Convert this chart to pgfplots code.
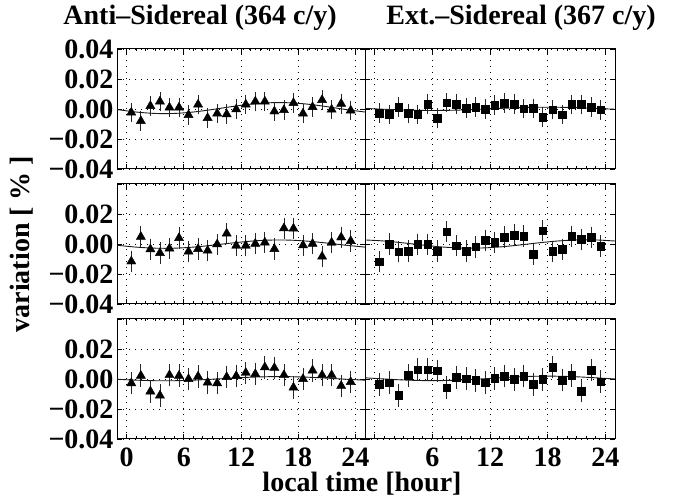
\documentclass[border=0pt]{standalone}
\usepackage{fontspec}
\setmainfont{Liberation Serif}
\usepackage{pgfplots}
\pgfplotsset{compat=1.18}
\usepgfplotslibrary{groupplots}

\newcommand{\bigbf}{\bfseries\fontsize{28}{30}\selectfont}

\tikzset{tag/.style={anchor=west, font=\bigbf, xshift=11pt}}

\pgfplotsset{
  panel/.style={
    scale only axis, height=120pt,
    xmin=-1, xmax=25, ymin=-0.04, ymax=0.04,
    scaled y ticks=false,
    xtick={0,6,12,18,24}, ytick={-0.04,-0.02,0,0.02,0.04},
    minor x tick num=5,
    grid=major,
    major grid style={black, line width=0.7pt, dash pattern=on 1pt off 5pt},
    tick align=inside, major tick length=5pt, minor tick length=2.5pt,
    tick style={black, line width=0.7pt},
    axis line style={line width=1pt},
    ticklabel style={font=\bigbf},
    xticklabel style={yshift=-5pt},
    label style={font=\bigbf},
    xticklabels={}, yticklabels={},
  },
  tri/.style={only marks, black, mark=triangle*, mark size=5.3pt,
    mark options={solid, fill=black, line width=0.4pt},
    error bars/.cd, y dir=both, y fixed=#1,
    error bar style={line width=0.8pt, black!85},
    error mark options={mark size=3.5pt, line width=0.8pt, black!85}},
  sq/.style={only marks, black, mark=square*, mark size=3.8pt,
    mark options={solid, fill=black, line width=0.4pt},
    error bars/.cd, y dir=both, y fixed=#1,
    error bar style={line width=0.8pt, black!85},
    error mark options={mark size=3.5pt, line width=0.8pt, black!85}},
  fit/.style={smooth, black!90, line width=0.9pt, no markers},
}

\begin{document}
\begin{tikzpicture}
\begin{groupplot}[group style={group size=2 by 3, horizontal sep=0pt, vertical sep=15pt}, panel]

% (a) anti-sidereal
\nextgroupplot[width=248pt,
  yticklabels={−0.04,−0.02,0.00,0.02,0.04},
  title={Anti–Sidereal (364 c/y)},
  title style={at={(rel axis cs:0.335,1)}, anchor=base, yshift=18pt, font=\bigbf}]
\addplot[fit] coordinates {(-1,-0.00036) (1,-0.00202) (3,-0.00297) (5,-0.00297) (7,-0.00202) (9,-0.00036) (11,0.00156) (13,0.00322) (15,0.00417) (17,0.00417) (19,0.00322) (21,0.00156) (23,-0.00036) (25,-0.00202)};
\addplot[tri=0.0042] coordinates {
 (0.5,-0.0024) (1.5,-0.008) (2.5,0.002) (3.5,0.005) (4.5,0.001) (5.5,0.001)
 (6.5,-0.004) (7.5,0.003) (8.5,-0.006) (9.5,-0.003) (10.5,-0.0035) (11.5,-0.0002)
 (12.5,0.003) (13.5,0.005) (14.5,0.005) (15.5,-0.0016) (16.5,-0.0007) (17.5,0.004)
 (18.5,-0.003) (19.5,0.0013) (20.5,0.006) (21.5,-0.0004) (22.5,0.0035) (23.5,-0.001)};

% (a) extended-sidereal
\nextgroupplot[width=250pt,
  title={Ext.–Sidereal (367 c/y)},
  title style={at={(rel axis cs:0.624,1)}, anchor=base, yshift=18pt, font=\bigbf}]
\addplot[fit] coordinates {(-1,0.00038) (1,-0.00018) (3,-0.00068) (5,-0.00096) (7,-0.00096) (9,-0.00068) (11,-0.00018) (13,0.00038) (15,0.00088) (17,0.00116) (19,0.00116) (21,0.00088) (23,0.00038) (25,-0.00018)};
\addplot[sq=0.0042] coordinates {
 (0.5,-0.0027) (1.5,-0.0036) (2.5,0.0013) (3.5,-0.003) (4.5,-0.0036) (5.5,0.0033)
 (6.5,-0.006) (7.5,0.0042) (8.5,0.0033) (9.5,0.0007) (10.5,0.0013) (11.5,0.0)
 (12.5,0.0027) (13.5,0.004) (14.5,0.0033) (15.5,0.0002) (16.5,0.0004) (17.5,-0.0053)
 (18.5,-0.0004) (19.5,-0.0038) (20.5,0.003) (21.5,0.003) (22.5,0.0013) (23.5,-0.0005)};
\node[tag] at (rel axis cs:1,0.5) {(a)};

% (b) anti-sidereal
\nextgroupplot[width=248pt,
  yticklabels={−0.04,−0.02,0.00,0.02,{}},
  ylabel={variation [ \% ]},
  ylabel style={at={(rel axis cs:-0.385,0.5)}, anchor=center}]
\addplot[fit] coordinates {(-1,-0.00083) (1,-0.00208) (3,-0.0028) (5,-0.0028) (7,-0.00208) (9,-0.00083) (11,0.00063) (13,0.00188) (15,0.0026) (17,0.0026) (19,0.00188) (21,0.00063) (23,-0.00083) (25,-0.00208)};
\addplot[tri=0.0048] coordinates {
 (0.5,-0.0116) (1.5,0.0048) (2.5,-0.0035) (3.5,-0.006) (4.5,-0.003) (5.5,0.004)
 (6.5,-0.005) (7.5,-0.0033) (8.5,-0.0044) (9.5,-0.0002) (10.5,0.007) (11.5,-0.0011)
 (12.5,-0.0011) (13.5,0.0002) (14.5,0.001) (15.5,-0.0033) (16.5,0.0105) (17.5,0.0103)
 (18.5,-0.0009) (19.5,0.0002) (20.5,-0.0084) (21.5,0.0009) (22.5,0.0044) (23.5,0.002)};

% (b) extended-sidereal
\nextgroupplot[width=250pt]
\addplot[fit] coordinates {(-1,0.0027) (1,0.00198) (3,0.00073) (5,-0.00073) (7,-0.00198) (9,-0.0027) (11,-0.0027) (13,-0.00198) (15,-0.00073) (17,0.00073) (19,0.00198) (21,0.0027) (23,0.0027) (25,0.00198)};
\addplot[sq=0.0048] coordinates {
 (0.5,-0.0118) (1.5,0.0) (2.5,-0.0052) (3.5,-0.0047) (4.5,-0.0003) (5.5,-0.0003)
 (6.5,-0.0047) (7.5,0.0082) (8.5,-0.0012) (9.5,-0.0047) (10.5,-0.0019) (11.5,0.0025)
 (12.5,0.001) (13.5,0.0047) (14.5,0.006) (15.5,0.0052) (16.5,-0.0069) (17.5,0.0089)
 (18.5,-0.005) (19.5,-0.0035) (20.5,0.005) (21.5,0.003) (22.5,0.0045) (23.5,-0.0013)};
\node[tag] at (rel axis cs:1,0.5) {(b)};

% (c) anti-sidereal
\nextgroupplot[width=248pt,
  yticklabels={−0.04,−0.02,0.00,0.02,{}},
  xticklabels={0,6,12,18,24},
  xlabel={local time [hour]},
  xlabel style={at={(rel axis cs:0.988,0)}, anchor=center, yshift=-45pt}]
\addplot[fit] coordinates {(-1,-0.00016) (1,-0.00079) (3,-0.00115) (5,-0.00115) (7,-0.00079) (9,-0.00016) (11,0.00056) (13,0.00119) (15,0.00155) (17,0.00155) (19,0.00119) (21,0.00056) (23,-0.00016) (25,-0.00079)};
\addplot[tri=0.0052] coordinates {
 (0.5,-0.0028) (1.5,0.0022) (2.5,-0.0083) (3.5,-0.011) (4.5,0.0026) (5.5,0.0022)
 (6.5,0.0) (7.5,0.0017) (8.5,-0.0024) (9.5,-0.0028) (10.5,0.0013) (11.5,0.002)
 (12.5,0.0041) (13.5,0.0033) (14.5,0.0078) (15.5,0.0074) (16.5,0.0026) (17.5,-0.0057)
 (18.5,0.0) (19.5,0.0057) (20.5,0.0026) (21.5,0.0026) (22.5,-0.0046) (23.5,-0.002)};

% (c) extended-sidereal
\nextgroupplot[width=250pt, xticklabels={{},6,12,18,24}]
\addplot[fit] coordinates {(-1,0.00079) (1,0.00001) (3,-0.00066) (5,-0.00105) (7,-0.00105) (9,-0.00066) (11,0.00001) (13,0.00079) (15,0.00146) (17,0.00185) (19,0.00185) (21,0.00146) (23,0.00079) (25,0.00001)};
\addplot[sq=0.0052] coordinates {
 (0.5,-0.0035) (1.5,-0.0024) (2.5,-0.011) (3.5,0.0024) (4.5,0.0063) (5.5,0.0063)
 (6.5,0.0054) (7.5,-0.0057) (8.5,0.0011) (9.5,0.0002) (10.5,-0.0009) (11.5,-0.0024)
 (12.5,0.0004) (13.5,0.002) (14.5,-0.0002) (15.5,0.002) (16.5,-0.0035) (17.5,-0.0002)
 (18.5,0.008) (19.5,-0.0007) (20.5,0.0024) (21.5,-0.008) (22.5,0.006) (23.5,-0.0018)};
\node[tag] at (rel axis cs:1,0.5) {(c)};
\end{groupplot}
\pgfresetboundingbox
\path ([shift={(-117pt,-59pt)}]group c1r3.south west) rectangle ([shift={(63pt,49pt)}]group c2r1.north east);
\end{tikzpicture}
\end{document}
